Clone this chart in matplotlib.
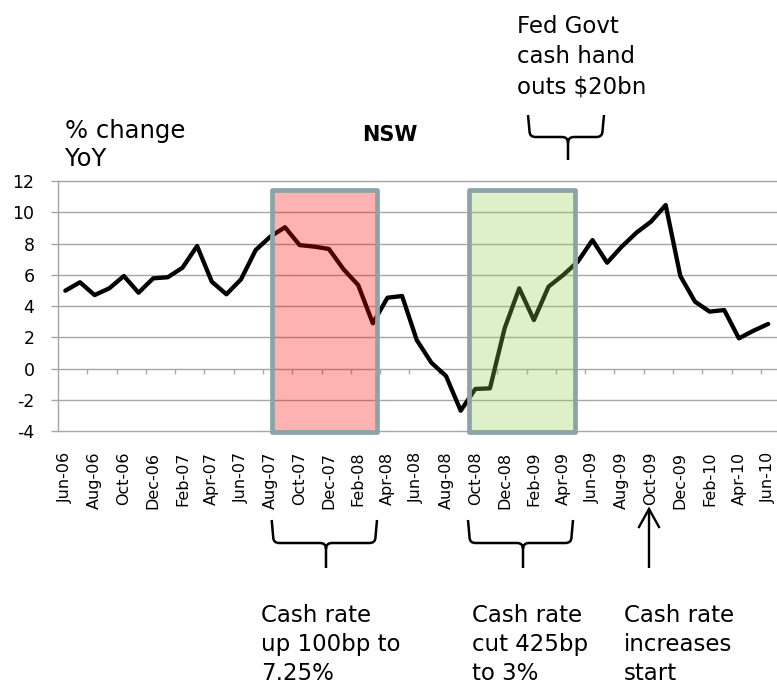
import matplotlib
matplotlib.use('Agg')
import matplotlib.pyplot as plt
from matplotlib.patches import Rectangle, PathPatch
from matplotlib.path import Path
import numpy as np

plt.rcParams['font.family'] = ['DejaVu Sans']

# ---------------- data ----------------
tick_labels = ["Jun-06", "Aug-06", "Oct-06", "Dec-06", "Feb-07", "Apr-07", "Jun-07",
               "Aug-07", "Oct-07", "Dec-07", "Feb-08", "Apr-08", "Jun-08", "Aug-08",
               "Oct-08", "Dec-08", "Feb-09", "Apr-09", "Jun-09", "Aug-09", "Oct-09",
               "Dec-09", "Feb-10", "Apr-10", "Jun-10"]

# monthly NSW % change YoY, Jun-06 .. Jun-10
nsw_values = [4.98, 5.52, 4.70, 5.13, 5.92, 4.85, 5.77, 5.84, 6.45, 7.84,
              5.56, 4.75, 5.71, 7.58, 8.44, 9.04, 7.90, 7.80, 7.65, 6.35,
              5.34, 2.89, 4.53, 4.64, 1.82, 0.37, -0.48, -2.70, -1.31, -1.27,
              2.57, 5.13, 3.10, 5.24, 5.98, 6.84, 8.22, 6.77, 7.80, 8.69,
              9.40, 10.46, 5.92, 4.28, 3.64, 3.74, 1.93, 2.42, 2.85]

y_ticks = [-4, -2, 0, 2, 4, 6, 8, 10, 12]

# highlighted periods (category positions)
red_span = (14.1, 21.3)
green_span = (27.6, 34.8)
box_top, box_bottom = 11.4, -4.05

# ---------------- figure ----------------
W, H = 777, 685
fig = plt.figure(figsize=(W / 100, H / 100), dpi=100)
ax = fig.add_axes([58 / W, 1 - 431 / H, (775.5 - 58) / W, 250 / H])

n = len(nsw_values)
x = np.arange(n)
grid_c = '#a6a6a6'

ax.set_xlim(-0.5, n - 0.5)
ax.set_ylim(y_ticks[0], y_ticks[-1])
ax.set_yticks(y_ticks)
ax.set_yticklabels([str(v) for v in y_ticks])
ax.yaxis.grid(True, color=grid_c, lw=1.0)
ax.set_axisbelow(True)
for s in ['top', 'right', 'bottom']:
    ax.spines[s].set_visible(False)
ax.spines['left'].set_color(grid_c)
ax.spines['left'].set_linewidth(1.0)
ax.tick_params(axis='y', length=5, width=1, color=grid_c, pad=12, labelsize=12.5)

ax.set_xticks(x[::2])
ax.set_xticklabels(tick_labels, rotation=90)
ax.tick_params(axis='x', length=0, pad=15, labelsize=11.5)
for gl in ax.get_ygridlines():
    gl.set_clip_on(False)

# tick marks on the zero line, between categories every 2 months
ax.vlines(np.arange(1.5, n - 1, 2), 0, -0.32, color=grid_c, lw=1.0, zorder=2)

ax.plot(x, nsw_values, color='black', lw=3.1, solid_joinstyle='round',
        solid_capstyle='round', zorder=3)

for (x0, x1), fc in [(red_span, (1.0, 0.0, 0.0, 0.30)),
                     (green_span, (146 / 255, 208 / 255, 80 / 255, 0.30))]:
    ax.add_patch(Rectangle((x0, box_bottom), x1 - x0, box_top - box_bottom,
                           facecolor=fc, edgecolor='#8ba4a7', lw=3.4,
                           joinstyle='round', zorder=4, clip_on=False))

# ---------------- overlay for annotations (pixel coords) ----------------
ov = fig.add_axes([0, 0, 1, 1], zorder=5)
ov.set_xlim(0, W)
ov.set_ylim(H, 0)
ov.axis('off')
ov.patch.set_alpha(0)


def brace(xl, xr, ytop, yh, ybot, xc=None, r=6):
    if xc is None:
        xc = (xl + xr) / 2
    verts, codes = [], []
    for side, sgn in ((xl, 1), (xr, -1)):
        verts += [(side, ytop), (side + sgn * 1.5, yh - r), (side + sgn * 1.5, yh),
                  (side + sgn * (r + 1.5), yh), (xc - sgn * r, yh), (xc, yh), (xc, yh + r)]
        codes += [Path.MOVETO, Path.LINETO, Path.CURVE3, Path.CURVE3,
                  Path.LINETO, Path.CURVE3, Path.CURVE3]
    verts += [(xc, yh + r), (xc, ybot)]
    codes += [Path.MOVETO, Path.LINETO]
    ov.add_patch(PathPatch(Path(verts, codes), fill=False, lw=1.8, edgecolor='black',
                           capstyle='butt', joinstyle='round'))


brace(528, 604, 115, 137, 160, xc=568)
brace(271.7, 377, 520, 543, 568, xc=326)
brace(468, 573, 520, 543, 568, xc=523)

# arrow for "Cash rate increases start"
ov.plot([649, 649], [568, 509], color='black', lw=1.7, solid_capstyle='butt')
ov.plot([639, 649, 659], [527, 509, 527], color='black', lw=1.7,
        solid_joinstyle='miter')

# (va='baseline' on multi-line text anchors the last line's baseline)
ov.text(65, 166, "% change\nYoY", fontsize=17.5, va='baseline', ha='left',
        linespacing=1.19)
ov.text(390, 141, "NSW", fontsize=15, fontweight='bold', va='baseline', ha='center')
ov.text(517, 93, "Fed Govt\ncash hand\nouts $20bn", fontsize=16.5, va='baseline',
        ha='left', linespacing=1.40)
for xt, s in [(261, "Cash rate\nup 100bp to\n7.25%"),
              (472, "Cash rate\ncut 425bp\nto 3%"),
              (624, "Cash rate\nincreases\nstart")]:
    ov.text(xt, 680, s, fontsize=16.5, va='baseline', ha='left', linespacing=1.34)

fig.savefig('out.png', dpi=100)
